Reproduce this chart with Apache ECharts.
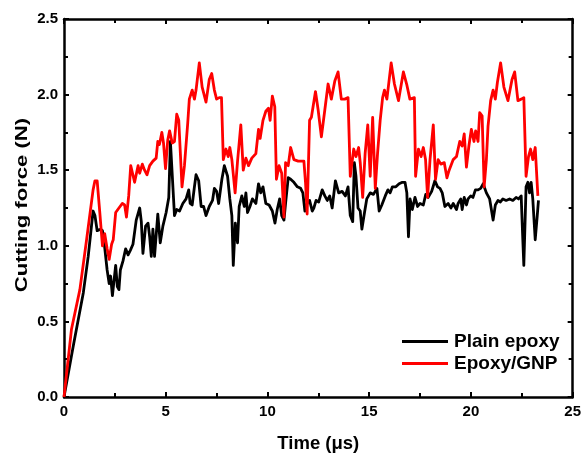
<!DOCTYPE html>
<html>
<head>
<meta charset="utf-8">
<script src="https://cdn.jsdelivr.net/npm/echarts@6/dist/echarts.min.js"></script>
<style>
  html, body { margin: 0; padding: 0; background: #fff; }
  #chart { width: 584px; height: 458px; }
</style>
</head>
<body>
<div id="chart"></div>
<script>
// Cutting force histories (time in µs, force in N)
const plainTime = [0, 0.46, 0.95, 1.19, 1.43, 1.52, 1.63, 1.79, 1.89, 2.00, 2.12, 2.22, 2.29, 2.38, 2.45, 2.54, 2.62, 2.70, 2.77, 2.90, 3.03, 3.15, 3.26, 3.39, 3.55, 3.72, 3.80, 3.88, 4.01, 4.13, 4.21, 4.29, 4.37, 4.45, 4.53, 4.61, 4.73, 4.86, 5.02, 5.15, 5.23, 5.43, 5.54, 5.68, 5.84, 6.00, 6.13, 6.20, 6.30, 6.41, 6.49, 6.62, 6.74, 6.86, 6.98, 7.14, 7.30, 7.39, 7.50, 7.60, 7.76, 7.88, 8.04, 8.15, 8.25, 8.32, 8.42, 8.53, 8.61, 8.74, 8.86, 8.94, 9.02, 9.14, 9.26, 9.43, 9.56, 9.67, 9.78, 9.92, 10.08, 10.24, 10.37, 10.48, 10.60, 10.70, 10.81, 10.89, 11.02, 11.14, 11.30, 11.47, 11.63, 11.74, 11.84, 11.95, 12.07, 12.20, 12.28, 12.39, 12.52, 12.69, 12.82, 12.94, 13.06, 13.18, 13.34, 13.50, 13.67, 13.83, 13.96, 14.07, 14.19, 14.27, 14.35, 14.45, 14.56, 14.64, 14.77, 14.88, 15.05, 15.21, 15.38, 15.49, 15.62, 15.79, 15.92, 16.03, 16.14, 16.31, 16.47, 16.63, 16.76, 16.85, 16.93, 17.01, 17.12, 17.25, 17.38, 17.50, 17.66, 17.78, 17.90, 18.07, 18.23, 18.36, 18.48, 18.59, 18.72, 18.88, 19.02, 19.13, 19.29, 19.37, 19.50, 19.57, 19.67, 19.78, 19.86, 19.99, 20.10, 20.22, 20.35, 20.48, 20.60, 20.76, 20.92, 21.09, 21.20, 21.33, 21.45, 21.57, 21.73, 21.90, 22.06, 22.22, 22.34, 22.47, 22.55, 22.60, 22.67, 22.71, 22.80, 22.88, 22.96, 23.04, 23.16, 23.26, 23.32];
const plainForce = [0, 0.34, 0.69, 0.93, 1.23, 1.20, 1.10, 1.11, 1.10, 0.99, 0.84, 0.75, 0.80, 0.67, 0.76, 0.87, 0.73, 0.71, 0.84, 0.90, 0.98, 0.94, 0.97, 1.01, 1.17, 1.25, 1.16, 0.95, 1.13, 1.15, 1.06, 0.93, 1.11, 0.93, 0.92, 1.21, 1.02, 1.13, 1.22, 1.32, 1.69, 1.20, 1.24, 1.23, 1.28, 1.31, 1.37, 1.28, 1.27, 1.39, 1.47, 1.43, 1.26, 1.26, 1.20, 1.26, 1.30, 1.38, 1.36, 1.28, 1.44, 1.53, 1.46, 1.31, 1.20, 0.87, 1.15, 1.02, 1.26, 1.33, 1.26, 1.35, 1.22, 1.26, 1.31, 1.28, 1.41, 1.35, 1.39, 1.28, 1.27, 1.23, 1.15, 1.24, 1.31, 1.20, 1.17, 1.28, 1.45, 1.44, 1.42, 1.39, 1.38, 1.35, 1.23, 1.28, 1.30, 1.23, 1.25, 1.30, 1.29, 1.37, 1.33, 1.30, 1.33, 1.25, 1.43, 1.35, 1.36, 1.33, 1.39, 1.20, 1.16, 1.55, 1.46, 1.25, 1.23, 1.11, 1.22, 1.31, 1.35, 1.34, 1.38, 1.23, 1.27, 1.33, 1.37, 1.35, 1.39, 1.39, 1.41, 1.42, 1.42, 1.35, 1.06, 1.31, 1.24, 1.32, 1.26, 1.28, 1.27, 1.34, 1.32, 1.36, 1.43, 1.39, 1.38, 1.35, 1.26, 1.28, 1.25, 1.28, 1.24, 1.28, 1.31, 1.24, 1.32, 1.27, 1.31, 1.33, 1.32, 1.37, 1.37, 1.38, 1.41, 1.35, 1.31, 1.17, 1.27, 1.30, 1.29, 1.31, 1.30, 1.31, 1.30, 1.32, 1.31, 1.33, 1.04, 0.87, 1.20, 1.39, 1.42, 1.35, 1.42, 1.31, 1.04, 1.20, 1.30];

const gnpTime = [0, 0.37, 0.78, 1.11, 1.43, 1.52, 1.63, 1.76, 1.89, 2.00, 2.12, 2.22, 2.34, 2.42, 2.54, 2.70, 2.87, 2.98, 3.07, 3.18, 3.28, 3.47, 3.64, 3.72, 3.85, 3.96, 4.08, 4.21, 4.37, 4.53, 4.61, 4.69, 4.81, 4.89, 4.99, 5.10, 5.19, 5.32, 5.43, 5.54, 5.64, 5.80, 5.92, 6.08, 6.16, 6.30, 6.41, 6.49, 6.65, 6.79, 6.98, 7.14, 7.26, 7.39, 7.50, 7.63, 7.74, 7.83, 7.96, 8.07, 8.15, 8.25, 8.41, 8.53, 8.69, 8.81, 8.94, 9.07, 9.23, 9.43, 9.56, 9.64, 9.78, 9.92, 10.05, 10.13, 10.24, 10.36, 10.44, 10.57, 10.70, 10.81, 10.89, 11.02, 11.14, 11.30, 11.51, 11.79, 11.87, 11.95, 12.07, 12.16, 12.36, 12.49, 12.65, 12.82, 12.98, 13.14, 13.31, 13.47, 13.63, 13.80, 13.96, 14.07, 14.24, 14.35, 14.48, 14.56, 14.68, 14.80, 14.93, 15.05, 15.17, 15.30, 15.41, 15.54, 15.66, 15.75, 15.87, 16.08, 16.24, 16.44, 16.68, 16.84, 17.00, 17.22, 17.28, 17.42, 17.55, 17.66, 17.77, 17.87, 17.99, 18.15, 18.26, 18.39, 18.52, 18.69, 18.82, 18.93, 19.13, 19.29, 19.45, 19.57, 19.67, 19.78, 19.90, 20.02, 20.15, 20.23, 20.35, 20.43, 20.55, 20.65, 20.76, 20.84, 20.97, 21.09, 21.20, 21.30, 21.46, 21.62, 21.82, 22.02, 22.15, 22.31, 22.47, 22.60, 22.71, 22.83, 22.93, 23.04, 23.16, 23.29];
const gnpForce = [0, 0.45, 0.71, 1.04, 1.37, 1.43, 1.43, 1.22, 1.00, 1.08, 0.98, 0.91, 1.01, 1.04, 1.22, 1.25, 1.28, 1.27, 1.19, 1.33, 1.53, 1.42, 1.53, 1.48, 1.54, 1.50, 1.47, 1.53, 1.56, 1.58, 1.69, 1.67, 1.75, 1.68, 1.51, 1.70, 1.76, 1.68, 1.69, 1.87, 1.83, 1.39, 1.53, 1.81, 1.97, 2.03, 1.97, 2.03, 2.21, 2.05, 1.95, 2.10, 2.14, 2.03, 1.97, 1.98, 1.98, 1.57, 1.64, 1.59, 1.65, 1.57, 1.35, 1.56, 1.80, 1.50, 1.58, 1.53, 1.58, 1.61, 1.77, 1.71, 1.83, 1.89, 1.91, 1.83, 1.99, 1.92, 1.44, 1.53, 1.48, 1.19, 1.55, 1.53, 1.65, 1.57, 1.56, 1.56, 1.42, 1.21, 1.83, 1.85, 2.02, 1.90, 1.72, 1.90, 2.07, 1.97, 2.09, 2.15, 1.97, 1.97, 1.98, 1.46, 1.64, 1.59, 1.65, 1.55, 1.32, 1.61, 1.80, 1.46, 1.85, 1.38, 1.61, 1.83, 1.98, 2.03, 1.97, 2.21, 2.07, 1.96, 2.15, 2.07, 1.97, 1.98, 1.46, 1.64, 1.59, 1.65, 1.57, 1.32, 1.57, 1.80, 1.44, 1.57, 1.54, 1.55, 1.45, 1.50, 1.57, 1.59, 1.69, 1.66, 1.74, 1.52, 1.66, 1.77, 1.69, 1.76, 1.69, 1.88, 1.86, 1.39, 1.57, 1.79, 1.96, 2.03, 1.97, 2.08, 2.21, 2.05, 1.96, 2.10, 2.15, 1.96, 1.97, 1.98, 1.46, 1.59, 1.64, 1.57, 1.65, 1.33];

const seriesNames = ['Plain epoxy', 'Epoxy/GNP'];
const xTicks = [0, 5, 10, 15, 20, 25];
const yTicks = [0.0, 0.5, 1.0, 1.5, 2.0, 2.5];
const xTitle = 'Time (μs)';
const yTitle = 'Cutting force (N)';

const zip = (a, b) => a.map((v, i) => [v, b[i]]);

const FONT = 'Liberation Sans, Arial, sans-serif';
const tickLabel = { fontFamily: FONT, fontWeight: 'bold', fontSize: 15, color: '#000' };
// onZero off so the mirrored top/right axes stay on the frame edges
const axisLine = { show: true, onZero: false, lineStyle: { color: '#000', width: 2.5 } };
const majorTick = { show: true, inside: true, length: 5, lineStyle: { color: '#000', width: 2 } };
const minorTick = { show: true, splitNumber: 2, length: 4, lineStyle: { color: '#000', width: 2 } };

const chart = echarts.init(document.getElementById('chart'), null, { renderer: 'canvas' });

chart.setOption({
  animation: false,
  backgroundColor: '#fff',
  grid: { left: 64, top: 19, right: 9, bottom: 60, containLabel: false },
  legend: {
    orient: 'vertical',
    left: 402,
    top: 332,
    padding: 0,
    itemWidth: 46,
    itemHeight: 3,
    itemGap: 3,
    icon: 'rect',
    data: seriesNames,
    textStyle: { fontFamily: FONT, fontWeight: 'bold', fontSize: 19, color: '#000', padding: [0, 0, 0, 1] }
  },
  // vertical title, drawn a little taller than wide
  graphic: [{
    type: 'text',
    x: 22, y: 205,
    rotation: Math.PI / 2,
    scaleX: 1.3,
    style: {
      text: yTitle, x: 0, y: 0, align: 'center', verticalAlign: 'middle',
      font: 'bold 17px ' + FONT, fill: '#000'
    }
  }],
  xAxis: [
    {
      type: 'value', position: 'bottom',
      min: xTicks[0], max: xTicks[xTicks.length - 1], interval: 5,
      name: xTitle, nameLocation: 'middle', nameGap: 37,
      nameTextStyle: { fontFamily: FONT, fontWeight: 'bold', fontSize: 18.5, color: '#000' },
      axisLine, axisTick: majorTick, minorTick: Object.assign({}, minorTick),
      axisLabel: Object.assign({ margin: 7 }, tickLabel),
      splitLine: { show: false }
    },
    {
      type: 'value', position: 'top',
      min: xTicks[0], max: xTicks[xTicks.length - 1], interval: 5,
      axisLine, axisTick: majorTick, minorTick: Object.assign({}, minorTick),
      axisLabel: { show: false }, splitLine: { show: false }
    }
  ],
  yAxis: [
    {
      type: 'value', position: 'left',
      min: yTicks[0], max: yTicks[yTicks.length - 1], interval: 0.5,
      axisLine, axisTick: majorTick, minorTick: Object.assign({}, minorTick),
      axisLabel: Object.assign({ margin: 6, formatter: v => v.toFixed(1) }, tickLabel),
      splitLine: { show: false }
    },
    {
      type: 'value', position: 'right',
      min: yTicks[0], max: yTicks[yTicks.length - 1], interval: 0.5,
      axisLine, axisTick: majorTick, minorTick: Object.assign({}, minorTick),
      axisLabel: { show: false }, splitLine: { show: false }
    }
  ],
  series: [
    {
      name: seriesNames[0], type: 'line', xAxisIndex: 0, yAxisIndex: 0,
      data: zip(plainTime, plainForce),
      showSymbol: false, symbol: 'none',
      lineStyle: { color: '#000', width: 2.8, join: 'round' },
      itemStyle: { color: '#000' }
    },
    {
      name: seriesNames[1], type: 'line', xAxisIndex: 0, yAxisIndex: 0,
      data: zip(gnpTime, gnpForce),
      showSymbol: false, symbol: 'none',
      lineStyle: { color: '#ff0000', width: 2.8, join: 'round' },
      itemStyle: { color: '#ff0000' }
    }
  ]
});
</script>
</body>
</html>
